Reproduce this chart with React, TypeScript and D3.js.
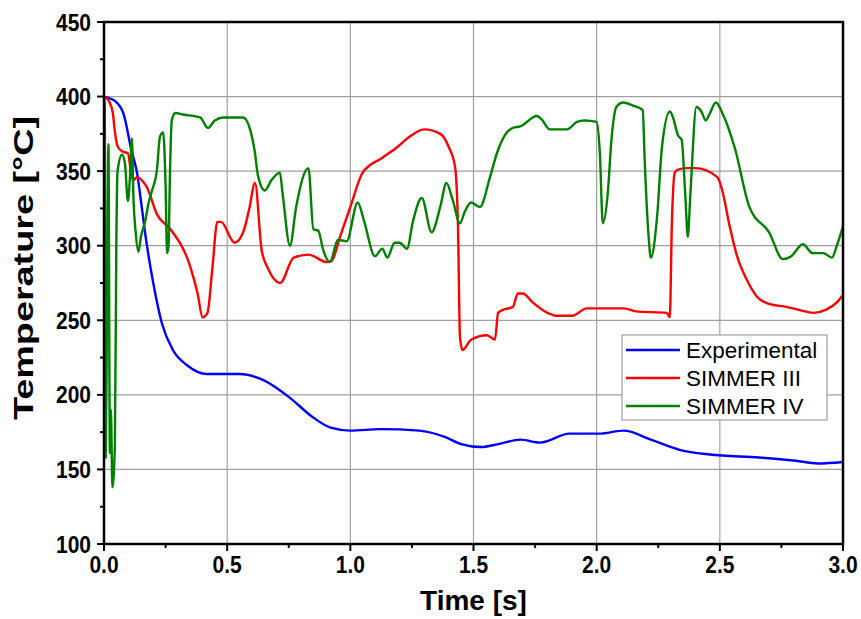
import React from "react";
import * as d3 from "d3";

const experimental: [number, number][] = [
  [0, 400], [0.02, 399], [0.045, 397], [0.08, 388], [0.11, 365], [0.135, 348], [0.15, 330],
  [0.17, 305], [0.2, 275], [0.235, 248], [0.28, 230], [0.336, 220], [0.418, 214], [0.55, 214],
  [0.645, 210], [0.755, 198], [0.84, 186], [0.92, 178], [1.0, 176], [1.12, 177], [1.28, 176],
  [1.38, 172], [1.45, 167], [1.53, 165], [1.6, 167], [1.69, 170], [1.77, 168], [1.89, 174],
  [2.01, 174], [2.11, 176], [2.22, 170], [2.34, 163], [2.46, 160], [2.66, 158], [2.8, 156],
  [2.9, 154], [3.0, 155],
];

const simmer3: [number, number][] = [
  [0, 400], [0.02, 397], [0.036, 389], [0.043, 378], [0.057, 366], [0.077, 363], [0.097, 362],
  [0.11, 349], [0.118, 344], [0.135, 346], [0.158, 343], [0.175, 339], [0.215, 321], [0.27, 311],
  [0.35, 286], [0.38, 268], [0.40, 252], [0.42, 255], [0.44, 285], [0.46, 316], [0.475, 316],
  [0.53, 302], [0.565, 309], [0.59, 325], [0.613, 342], [0.64, 297], [0.665, 285], [0.715, 275],
  [0.77, 292], [0.83, 294], [0.905, 289], [0.925, 290], [0.958, 306], [1.0, 326], [1.05, 349],
  [1.13, 359], [1.19, 366], [1.24, 373], [1.30, 378], [1.365, 375], [1.40, 366], [1.425, 353],
  [1.437, 313], [1.445, 239], [1.455, 230], [1.49, 237], [1.555, 240], [1.587, 237], [1.60, 255],
  [1.62, 257], [1.66, 259], [1.68, 268], [1.70, 268], [1.74, 262], [1.80, 255], [1.84, 253],
  [1.90, 253], [1.96, 258], [2.0, 258], [2.11, 258], [2.16, 256], [2.285, 255], [2.297, 252],
  [2.305, 313], [2.317, 349], [2.33, 351], [2.365, 352], [2.40, 352], [2.49, 346], [2.51, 337],
  [2.54, 313], [2.57, 293], [2.61, 277], [2.65, 266], [2.70, 261], [2.77, 259], [2.82, 257],
  [2.88, 255], [2.93, 257], [2.975, 262], [3.0, 267],
];

const simmer4: [number, number][] = [
  [0, 400], [0.003, 395], [0.007, 158], [0.012, 250], [0.018, 368], [0.024, 161], [0.028, 190],
  [0.034, 138], [0.044, 165], [0.05, 300], [0.055, 350], [0.073, 361], [0.085, 355], [0.097, 330],
  [0.105, 345], [0.113, 372], [0.12, 330], [0.128, 310], [0.14, 296], [0.15, 306], [0.168, 317],
  [0.18, 328], [0.195, 337], [0.215, 351], [0.227, 373], [0.24, 376], [0.25, 340], [0.256, 295],
  [0.262, 300], [0.268, 350], [0.275, 384], [0.29, 389], [0.32, 388], [0.39, 386], [0.422, 379],
  [0.45, 384], [0.485, 386], [0.565, 386], [0.593, 378], [0.613, 362], [0.625, 347], [0.653, 337],
  [0.68, 344], [0.714, 349], [0.725, 335], [0.755, 300], [0.78, 326], [0.83, 352], [0.85, 311],
  [0.87, 310], [0.89, 297], [0.917, 289], [0.95, 304], [0.985, 303], [1.03, 329], [1.055, 317],
  [1.10, 293], [1.13, 298], [1.15, 292], [1.18, 302], [1.2, 302], [1.23, 298], [1.255, 317],
  [1.29, 332], [1.33, 309], [1.365, 326], [1.39, 342], [1.415, 331], [1.445, 315], [1.465, 323],
  [1.49, 329], [1.526, 326], [1.567, 346], [1.595, 362], [1.627, 374], [1.66, 379], [1.69, 380],
  [1.757, 387], [1.775, 385], [1.81, 378], [1.88, 378], [1.92, 383], [1.95, 384], [2.0, 383],
  [2.013, 362], [2.025, 315], [2.045, 335], [2.06, 371], [2.08, 393], [2.107, 396], [2.147, 394],
  [2.187, 391], [2.195, 357], [2.21, 308], [2.22, 292], [2.245, 319], [2.265, 366], [2.297, 390],
  [2.31, 386], [2.33, 374], [2.345, 371], [2.36, 333], [2.37, 306], [2.38, 333], [2.405, 393],
  [2.425, 390], [2.443, 384], [2.46, 389], [2.484, 396], [2.51, 389], [2.56, 366], [2.62, 326],
  [2.70, 309], [2.756, 291], [2.79, 293], [2.837, 301], [2.877, 295], [2.92, 295], [2.955, 292],
  [2.975, 300], [3.0, 313],
];

const xTicks = [0, 0.5, 1.0, 1.5, 2.0, 2.5, 3.0];
const xMinorTicks = [0.25, 0.75, 1.25, 1.75, 2.25, 2.75];
const yTicks = [100, 150, 200, 250, 300, 350, 400, 450];
const yMinorTicks = [125, 175, 225, 275, 325, 375, 425];

const seriesNames = ["Experimental", "SIMMER III", "SIMMER IV"];
const seriesColors = ["#0000ff", "#ff0000", "#008000"];
const seriesData = [experimental, simmer3, simmer4];

const W = 861;
const H = 619;
const L = 104, R = 843, T = 22, B = 544;
const FONT = "'Liberation Sans', Arial, sans-serif";
const STRETCH = 1.13;

export default function App() {
  const x = d3.scaleLinear().domain([0, 3]).range([L, R]);
  const y = d3.scaleLinear().domain([100, 450]).range([B, T]);
  const line = d3
    .line<[number, number]>()
    .x((d) => x(d[0]))
    .y((d) => y(d[1]))
    .curve(d3.curveMonotoneX);

  return (
    <svg
      width={W}
      height={H}
      style={{ position: "absolute", left: 0, top: 0, background: "#fff" }}
    >
      <defs>
        <clipPath id="clip">
          <rect x={L} y={T} width={R - L} height={B - T} />
        </clipPath>
      </defs>
      <rect x={0} y={0} width={W} height={H} fill="#fff" />
      {/* grid */}
      {xTicks.slice(1, -1).map((t) => (
        <line key={"gx" + t} x1={x(t)} x2={x(t)} y1={T} y2={B} stroke="#a0a0a0" strokeWidth={1.2} />
      ))}
      {yTicks.slice(1, -1).map((t) => (
        <line key={"gy" + t} x1={L} x2={R} y1={y(t)} y2={y(t)} stroke="#a0a0a0" strokeWidth={1.2} />
      ))}
      {/* series */}
      <g clipPath="url(#clip)">
        {seriesData.map((s, i) => (
          <path
            key={seriesNames[i]}
            d={line(s) || ""}
            fill="none"
            stroke={seriesColors[i]}
            strokeWidth={2.4}
            strokeLinejoin="round"
          />
        ))}
      </g>
      {/* frame */}
      <rect x={L} y={T} width={R - L} height={B - T} fill="none" stroke="#000" strokeWidth={2.5} />
      {/* x ticks */}
      {xTicks.map((t) => (
        <line key={"xt" + t} x1={x(t)} x2={x(t)} y1={B} y2={B + 7} stroke="#000" strokeWidth={2} />
      ))}
      {xMinorTicks.map((t) => (
        <line key={"xm" + t} x1={x(t)} x2={x(t)} y1={B} y2={B + 4} stroke="#000" strokeWidth={2} />
      ))}
      {xTicks.map((t) => (
        <text
          key={"xl" + t}
          transform={`translate(${x(t)}, 573) scale(1, ${STRETCH})`}
          textAnchor="middle"
          fontFamily={FONT}
          fontWeight="bold"
          fontSize={21}
          fill="#000"
        >
          {t.toFixed(1)}
        </text>
      ))}
      {/* y ticks */}
      {yTicks.map((t) => (
        <line key={"yt" + t} x1={L - 7} x2={L} y1={y(t)} y2={y(t)} stroke="#000" strokeWidth={2} />
      ))}
      {yMinorTicks.map((t) => (
        <line key={"ym" + t} x1={L - 4} x2={L} y1={y(t)} y2={y(t)} stroke="#000" strokeWidth={2} />
      ))}
      {yTicks.map((t) => (
        <text
          key={"yl" + t}
          transform={`translate(91, ${y(t)}) scale(1, ${STRETCH})`}
          dy="0.36em"
          textAnchor="end"
          fontFamily={FONT}
          fontWeight="bold"
          fontSize={21}
          fill="#000"
        >
          {t}
        </text>
      ))}
      {/* axis titles */}
      <text
        x={(L + R) / 2}
        y={610}
        textAnchor="middle"
        fontFamily={FONT}
        fontWeight="bold"
        fontSize={28}
        fill="#000"
      >
        Time [s]
      </text>
      <text
        transform={`translate(33, 268) rotate(-90) scale(1.4, 1)`}
        textAnchor="middle"
        fontFamily={FONT}
        fontWeight="bold"
        fontSize={27}
        fill="#000"
      >
        Temperature [°C]
      </text>
      {/* legend */}
      <rect x={622} y={335} width={205} height={85} fill="#fff" stroke="#a0a0a0" strokeWidth={1.2} />
      {seriesNames.map((n, i) => (
        <g key={"lg" + n}>
          <line
            x1={626}
            x2={680}
            y1={350 + i * 28}
            y2={350 + i * 28}
            stroke={seriesColors[i]}
            strokeWidth={2.4}
          />
          <text
            x={686}
            y={350 + i * 28}
            dy="0.35em"
            fontFamily={FONT}
            fontSize={22.5}
            fill="#000"
          >
            {n}
          </text>
        </g>
      ))}
    </svg>
  );
}
